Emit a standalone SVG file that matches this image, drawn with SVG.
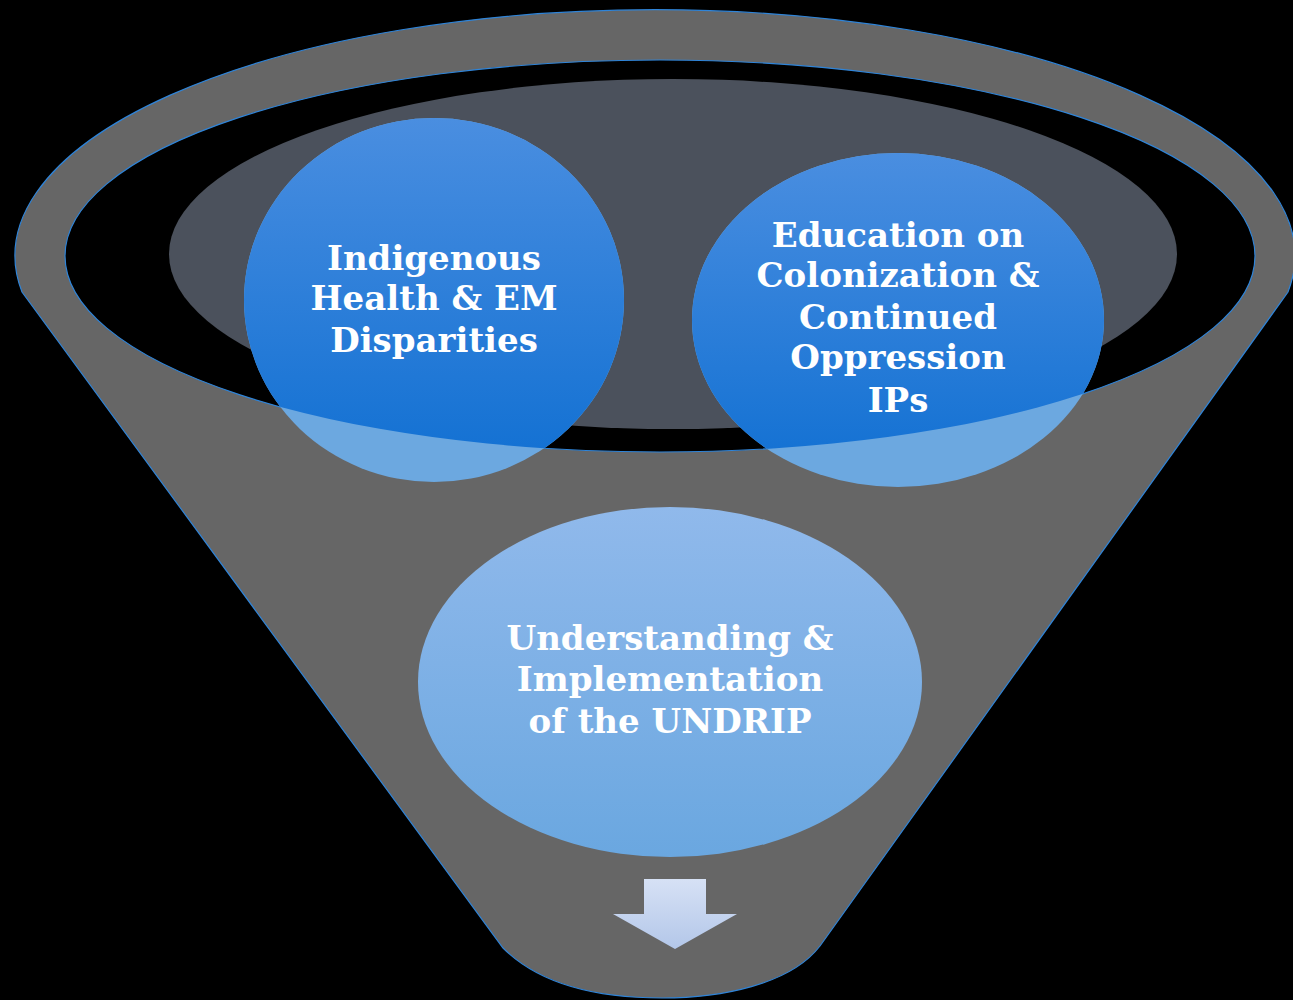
<svg xmlns="http://www.w3.org/2000/svg" width="1293" height="1000" viewBox="0 0 1293 1000">
  <defs>
    <linearGradient id="gTop" x1="0" y1="0" x2="0" y2="1">
      <stop offset="0" stop-color="#4a8ee0"/>
      <stop offset="1" stop-color="#0f6fd2"/>
    </linearGradient>
    <linearGradient id="gLow" x1="0" y1="0" x2="0" y2="1">
      <stop offset="0" stop-color="#90b9eb"/>
      <stop offset="1" stop-color="#6aa7e0"/>
    </linearGradient>
    <linearGradient id="gArrow" x1="0" y1="0" x2="0" y2="1">
      <stop offset="0" stop-color="#d6e1f5"/>
      <stop offset="1" stop-color="#b3c7e9"/>
    </linearGradient>
    <clipPath id="mouth">
      <ellipse cx="660" cy="256" rx="595" ry="196"/>
    </clipPath>
    <style>
      .lbl { font-family: "DejaVu Serif", "Liberation Serif", serif; font-weight: bold; font-size: 34px; fill: #ffffff; text-anchor: middle; }
      .edge { stroke: #2f84d8; stroke-width: 1.2; }
    </style>
  </defs>

  <rect width="1293" height="1000" fill="#000000"/>

  <!-- funnel body -->
  <g id="funnel">
    <path class="edge" fill="#666666" d="M 22 292 A 640 246 0 1 1 1288 292 L 820 946 C 790 985 720 998 662 998 C 600 998 540 985 503 948 Z"/>
    <ellipse class="edge" cx="660" cy="256" rx="595" ry="196" fill="#000000"/>
    <ellipse cx="673" cy="254" rx="504" ry="175" fill="#4b515c"/>
  </g>

  <!-- upper left circle -->
  <g id="node-health">
    <ellipse cx="434" cy="300" rx="190" ry="182" fill="#6ca8e0"/>
    <ellipse cx="434" cy="300" rx="190" ry="182" fill="url(#gTop)" clip-path="url(#mouth)"/>
    <text class="lbl" x="434" y="270">Indigenous</text>
    <text class="lbl" x="434" y="310">Health &amp; EM</text>
    <text class="lbl" x="434" y="352">Disparities</text>
  </g>

  <!-- upper right circle -->
  <g id="node-education">
    <ellipse cx="898" cy="320" rx="206" ry="167" fill="#6ca8e0"/>
    <ellipse cx="898" cy="320" rx="206" ry="167" fill="url(#gTop)" clip-path="url(#mouth)"/>
    <text class="lbl" x="898" y="247">Education on</text>
    <text class="lbl" x="898" y="287">Colonization &amp;</text>
    <text class="lbl" x="898" y="329">Continued</text>
    <text class="lbl" x="898" y="369">Oppression</text>
    <text class="lbl" x="898" y="412">IPs</text>
  </g>

  <!-- lower circle -->
  <g id="node-undrip">
    <ellipse cx="670" cy="682" rx="252" ry="175" fill="url(#gLow)"/>
    <text class="lbl" x="670" y="650">Understanding &amp;</text>
    <text class="lbl" x="670" y="691">Implementation</text>
    <text class="lbl" x="670" y="733">of the UNDRIP</text>
  </g>

  <!-- outflow arrow -->
  <g id="connectors">
    <path fill="url(#gArrow)" d="M 644 879 L 706 879 L 706 914 L 737 914 L 675 949 L 613 914 L 644 914 Z"/>
  </g>
</svg>
